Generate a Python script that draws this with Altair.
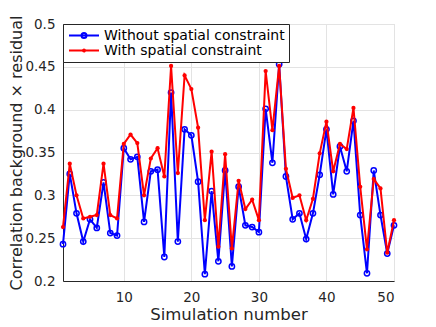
import altair as alt
import pandas as pd

sim = list(range(1, 51))
without_sc = [0.243, 0.325, 0.279, 0.246, 0.272, 0.262, 0.315, 0.256, 0.253, 0.355,
              0.342, 0.345, 0.269, 0.328, 0.330, 0.228, 0.420, 0.246, 0.377, 0.370,
              0.316, 0.208, 0.305, 0.223, 0.329, 0.217, 0.310, 0.265, 0.263, 0.257,
              0.401, 0.338, 0.453, 0.322, 0.272, 0.279, 0.249, 0.279, 0.324, 0.377,
              0.301, 0.357, 0.328, 0.387, 0.277, 0.209, 0.329, 0.277, 0.232, 0.265]
with_sc = [0.263, 0.337, 0.300, 0.273, 0.275, 0.277, 0.337, 0.277, 0.273, 0.360,
           0.371, 0.361, 0.300, 0.343, 0.355, 0.322, 0.451, 0.326, 0.440, 0.424,
           0.379, 0.271, 0.351, 0.240, 0.348, 0.238, 0.317, 0.284, 0.295, 0.271,
           0.445, 0.376, 0.451, 0.331, 0.297, 0.300, 0.271, 0.296, 0.349, 0.386,
           0.328, 0.360, 0.354, 0.402, 0.310, 0.237, 0.319, 0.308, 0.233, 0.271]
series_names = ["Without spatial constraint", "With spatial constraint"]
colors = ["#0000ff", "#ff0000"]
x_ticks = [10, 20, 30, 40, 50]
y_ticks = [0.2, 0.25, 0.3, 0.35, 0.4, 0.45, 0.5]

df = pd.DataFrame({
    "sim": sim * 2,
    "value": without_sc + with_sc,
    "series": [series_names[0]] * 50 + [series_names[1]] * 50,
})

FONT = "DejaVu Sans"
x = alt.X("sim:Q", scale=alt.Scale(domain=[1, 50], nice=False, zero=False),
          axis=alt.Axis(values=x_ticks, title="Simulation number", grid=True,
                        ticks=False, tickSize=0, labelPadding=9, titlePadding=3,
                        labelFontSize=13.5, titleFontSize=16.5, titleFontWeight="normal",
                        labelFont=FONT, titleFont=FONT, labelColor="#262626",
                        titleColor="#262626", domainColor="#262626", gridColor="#e3e3e3"))
y = alt.Y("value:Q", scale=alt.Scale(domain=[0.2, 0.5], nice=False, zero=False),
          axis=alt.Axis(values=y_ticks, format=".2~f",
                        title="Correlation background \u00d7 residual", grid=True,
                        ticks=False, tickSize=0, labelPadding=8, titlePadding=0,
                        labelFontSize=13.5, titleFontSize=16, titleFontWeight="normal",
                        labelFont=FONT, titleFont=FONT, labelColor="#262626",
                        titleColor="#262626", domainColor="#262626", gridColor="#e3e3e3"))

base = alt.Chart(df)
blue_f = alt.datum.series == series_names[0]
red_f = alt.datum.series == series_names[1]

blue_line = base.transform_filter(blue_f).mark_line(strokeWidth=2, color=colors[0]).encode(x=x, y=y)
blue_pts = base.transform_filter(blue_f).mark_point(filled=False, size=28, strokeWidth=1.5,
                                                     color=colors[0], opacity=1).encode(x=x, y=y)
red_line = base.transform_filter(red_f).mark_line(strokeWidth=2, color=colors[1]).encode(x=x, y=y)
red_pts = base.transform_filter(red_f).mark_point(filled=True, size=18, color=colors[1],
                                                   opacity=1).encode(x=x, y=y)

path_blue = "M-1,0H5M2.5,0A0.5,0.5 0 1 1 1.5,0A0.5,0.5 0 1 1 2.5,0"
path_red = "M-1,0H5M2.2,0A0.2,0.2 0 1 1 1.8,0A0.2,0.2 0 1 1 2.2,0"

legend_layer = base.transform_filter("false").mark_point(filled=False, opacity=1).encode(
    color=alt.Color("series:N", scale=alt.Scale(domain=series_names, range=colors),
                    legend=alt.Legend(title=None, orient="top-left", offset=0,
                                      symbolSize=100, symbolStrokeWidth=2,
                                      labelOffset=23, labelFontSize=14, labelFont=FONT,
                                      labelColor="#000000", padding=4, clipHeight=15,
                                      rowPadding=0, strokeColor="#262626",
                                      fillColor="#ffffff", labelLimit=400)),
    shape=alt.Shape("series:N", scale=alt.Scale(domain=series_names, range=[path_blue, path_red]),
                    legend=alt.Legend(title=None)),
)

chart = alt.layer(blue_line, blue_pts, red_line, red_pts, legend_layer).properties(
    width=331, height=257,
    autosize=alt.AutoSizeParams(type="none"),
    padding={"left": 55, "top": 16, "right": 20, "bottom": 48},
).configure_view(stroke="#8a8a8a", strokeWidth=1).configure(background="#ffffff")

chart.save("out.html", embed_options={"renderer": "svg", "actions": False})
